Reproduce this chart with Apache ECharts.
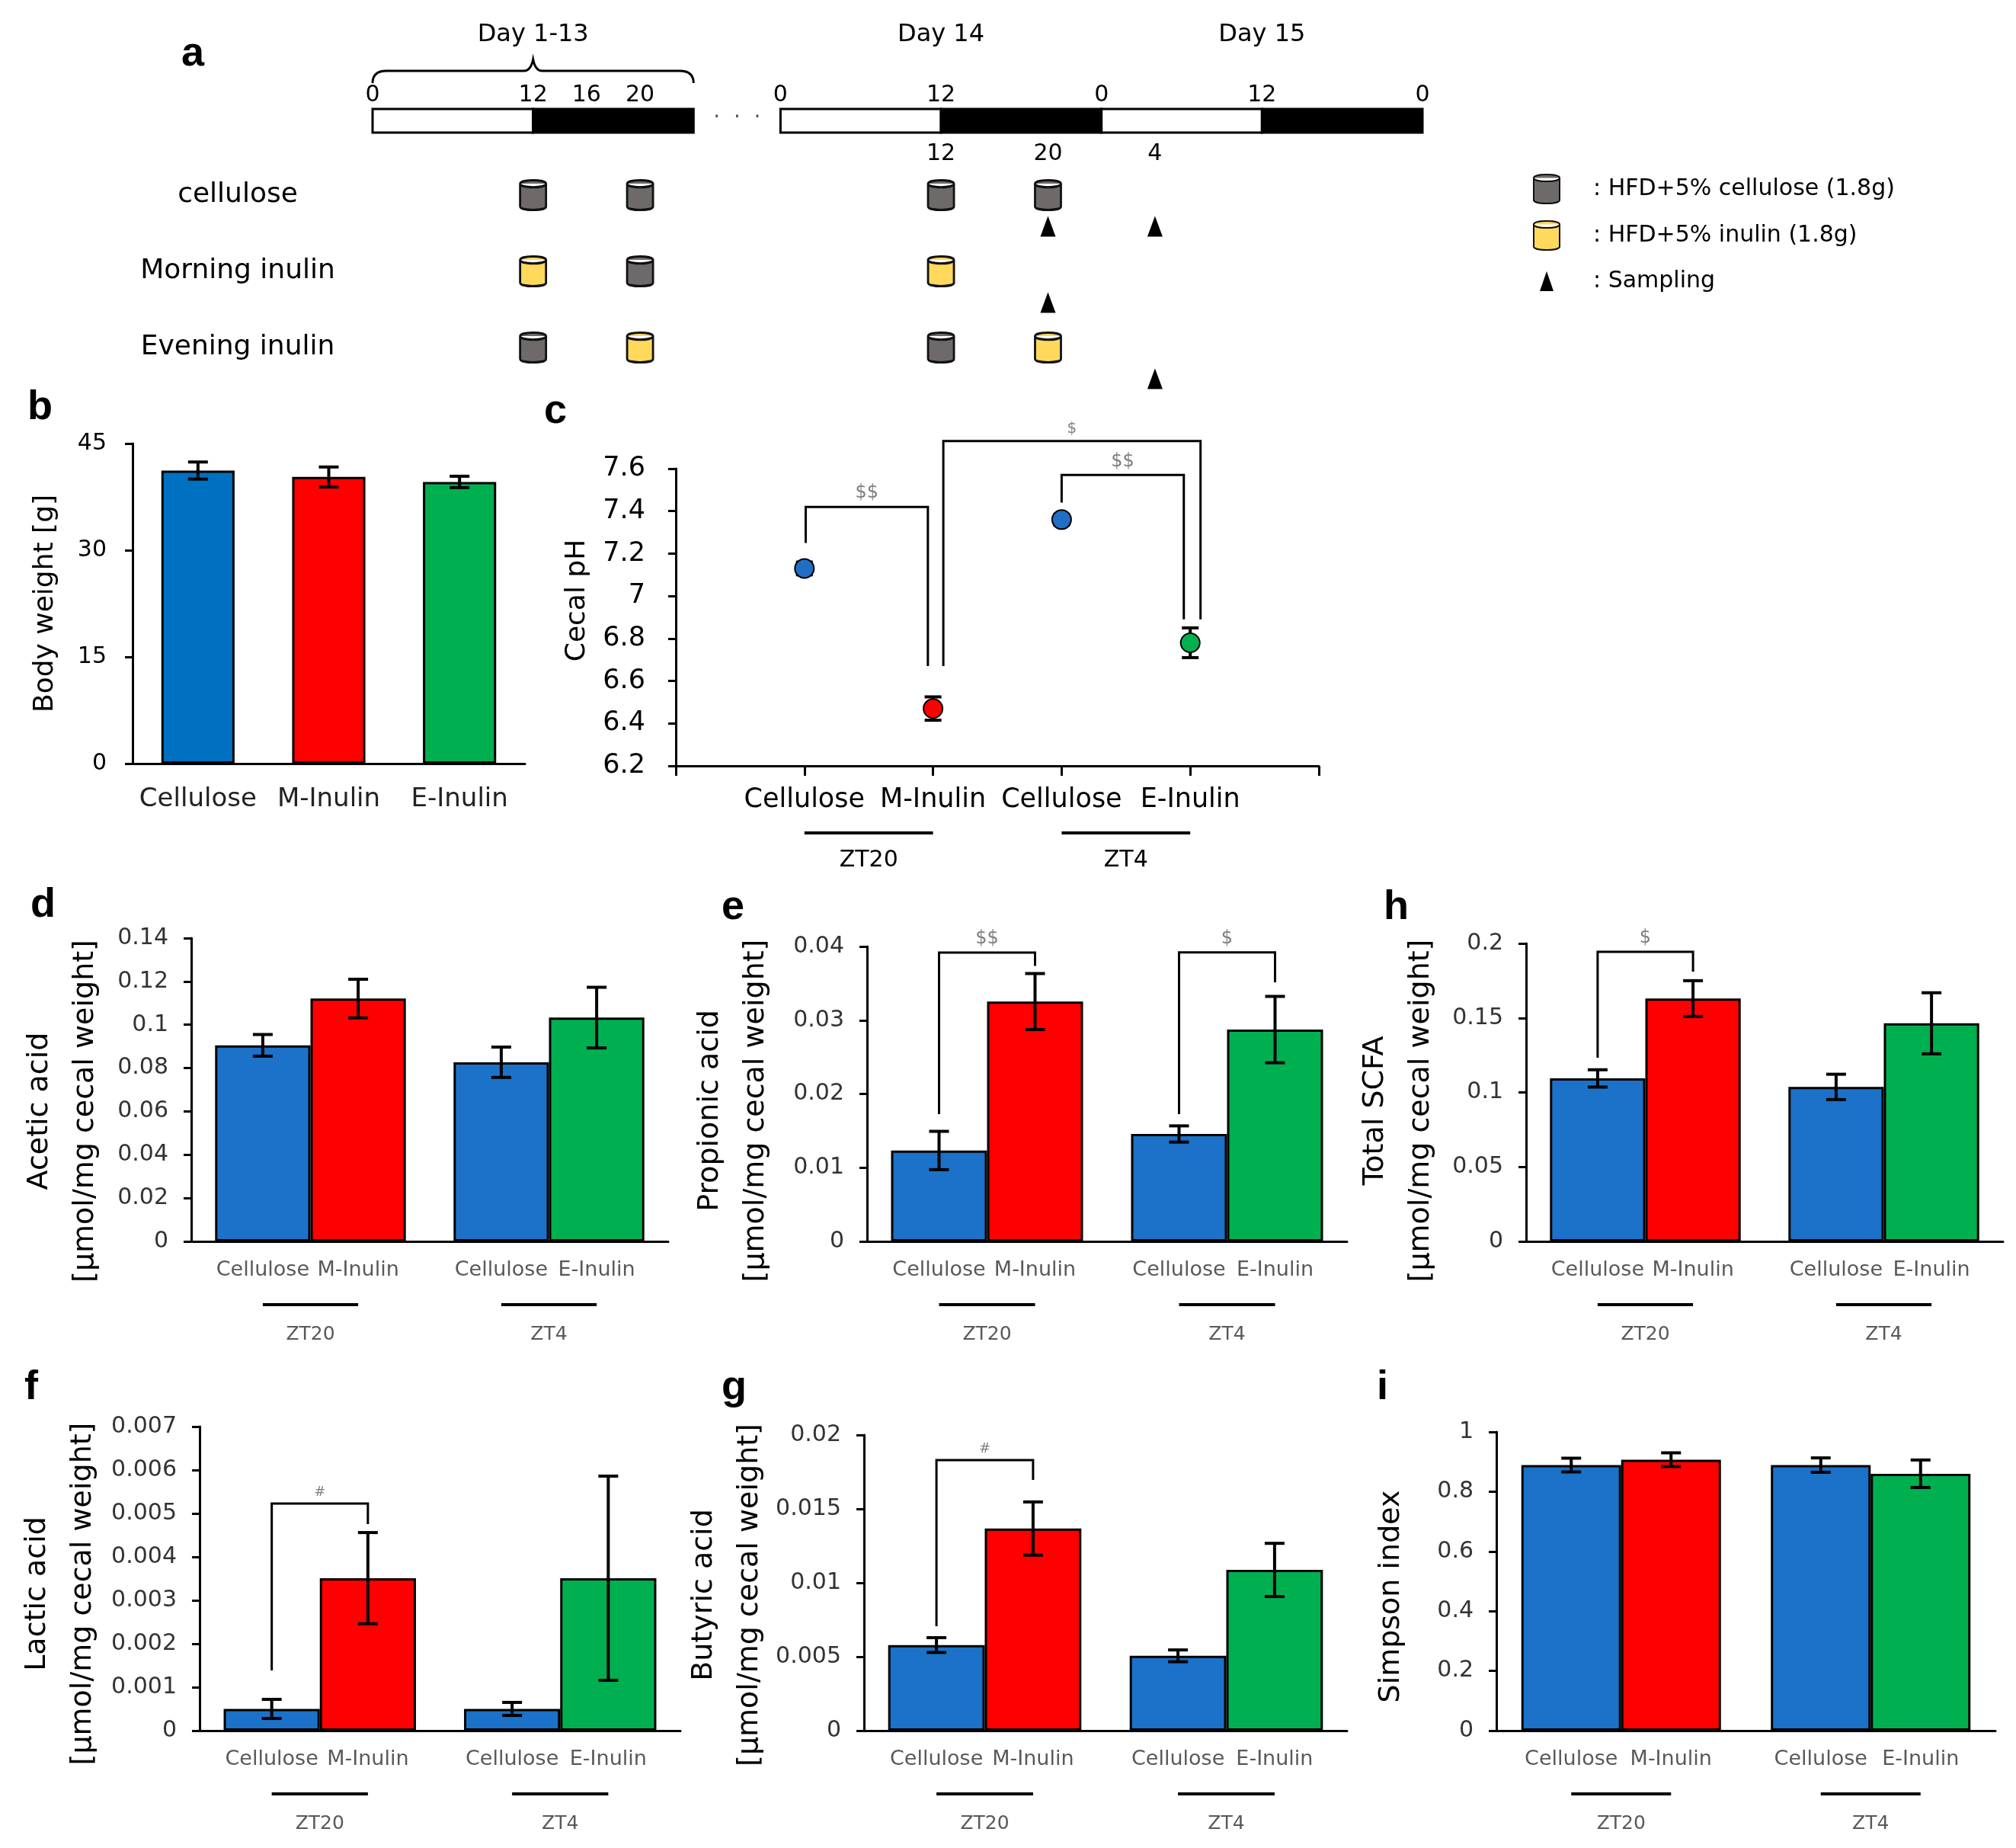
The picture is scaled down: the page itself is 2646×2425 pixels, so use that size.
<!DOCTYPE html>
<html>
<head>
<meta charset="utf-8">
<script src="https://cdn.jsdelivr.net/npm/echarts@6/dist/echarts.min.js"></script>
<style>
  html, body { margin: 0; padding: 0; background: #fff; }
  #chart { width: 2646px; height: 2425px; }
</style>
</head>
<body>
<div id="chart"></div>
<script>
// ---- panel a: feeding schedule (hours on one axis, day 14 starts after the break) ----
var DAY14 = 30.5;
var dayLabels = ['Day 1-13', 'Day 14', 'Day 15'];
var dayLabelHours = [12, DAY14 + 12, DAY14 + 36];
var phaseBlocks = [[0, 12, 0], [12, 24, 1], [DAY14, DAY14 + 12, 0], [DAY14 + 12, DAY14 + 24, 1], [DAY14 + 24, DAY14 + 36, 0], [DAY14 + 36, DAY14 + 48, 1]];
var clockHours = [0, 12, 16, 20, DAY14, DAY14 + 12, DAY14 + 24, DAY14 + 36, DAY14 + 48];
var clockLabels = ['0', '12', '16', '20', '0', '12', '0', '12', '0'];
var day14Hours = [DAY14 + 12, DAY14 + 20, DAY14 + 28];
var day14Labels = ['12', '20', '4'];
var dietGroups = ['cellulose', 'Morning inulin', 'Evening inulin'];
var celluloseMeals = [[12, 'cellulose'], [20, 'cellulose'], [DAY14 + 12, 'cellulose'], [DAY14 + 20, 'cellulose'],
  [20, 'Morning inulin'], [12, 'Evening inulin'], [DAY14 + 12, 'Evening inulin']];
var inulinMeals = [[12, 'Morning inulin'], [DAY14 + 12, 'Morning inulin'], [20, 'Evening inulin'], [DAY14 + 20, 'Evening inulin']];
var samplings = [[DAY14 + 20, 'cellulose'], [DAY14 + 28, 'cellulose'], [DAY14 + 20, 'Morning inulin'], [DAY14 + 28, 'Evening inulin']];

// ---- panel b ----
var bGroups = ['Cellulose', 'M-Inulin', 'E-Inulin'];
var bodyWeight = [41.2, 40.3, 39.6];
var bodyWeightSE = [1.2, 1.4, 0.8];

// ---- panel c ----
var phLabels = ['Cellulose', 'M-Inulin', 'Cellulose', 'E-Inulin'];
var cecalPH = [7.13, 6.47, 7.36, 6.78];
var cecalPHSE = [0.03, 0.055, 0.025, 0.07];

// ---- panels d-i (ZT20: cellulose vs M-inulin, ZT4: cellulose vs E-inulin) ----
var times = ['ZT20', 'ZT4'];
var inulinNames = ['M-Inulin', 'E-Inulin'];
var aceticCell = [0.0905, 0.0827], aceticCellSE = [0.005, 0.007];
var aceticInu = [0.1121, 0.1033], aceticInuSE = [0.0089, 0.014];
var propCell = [0.01233, 0.01457], propCellSE = [0.0026, 0.0011];
var propInu = [0.03253, 0.02873], propInuSE = [0.0038, 0.0045];
var scfaCell = [0.1094, 0.1037], scfaCellSE = [0.0058, 0.0085];
var scfaInu = [0.163, 0.1464], scfaInuSE = [0.012, 0.0205];
var lactCell = [0.0005, 0.0005], lactCellSE = [0.00022, 0.00015];
var lactInu = [0.00351, 0.00351], lactInuSE = [0.00105, 0.00235];
var butCell = [0.00579, 0.00506], butCellSE = [0.0005, 0.0004];
var butInu = [0.01367, 0.01087], butInuSE = [0.0018, 0.0018];
var simpCell = [0.889, 0.889], simpCellSE = [0.023, 0.024];
var simpInu = [0.907, 0.86], simpInuSE = [0.023, 0.046];

// significance brackets: [x left, x right, y left leg end, y top, y right leg end]
var phBrackets = [[1.01, 1.96, 7.25, 7.42, 6.67], [2.08, 4.08, 6.67, 7.73, 6.89], [3.0, 3.95, 7.44, 7.57, 6.89]];
var phBracketText = ['$$', '$', '$$'];
// bar brackets: [category, y left leg end, y top, y right leg end]
var propBrackets = [[0, 0.01726, 0.03917, 0.03736], [1, 0.01726, 0.0392, 0.03514]];
var propBracketText = ['$$', '$'];
var scfaBrackets = [[0, 0.1233, 0.1944, 0.1811]];
var lactBrackets = [[0, 0.001386, 0.00523, 0.004754]];
var butBrackets = [[0, 0.00706, 0.0183, 0.01696]];

var FONT = 'DejaVu Sans';
var BLUE = '#1B72C8', BLUE_B = '#0070C0', RED = '#FF0000', GREEN = '#00B050';
var CYL = 'path://M0,5C0,-1,34,-1,34,5L34,34C34,40,0,40,0,34ZM0,5C0,11,34,11,34,5';
var TRI = 'path://M0,0M36,38M18,6L27,32L9,32Z';
var NAME_CELL = ': HFD+5% cellulose (1.8g)';
var NAME_INU = ': HFD+5% inulin (1.8g)';
var NAME_SAMP = ': Sampling';
var AXIS_LINE = { color: '#000', width: 3 };

var option = {
  animation: false,
  backgroundColor: '#fff',
  title: [],
  legend: {
    orient: 'vertical', left: 2007, top: 223, itemWidth: 36, itemHeight: 38, itemGap: 21,
    selectedMode: false,
    textStyle: { fontFamily: FONT, fontSize: 30, color: '#000', padding: [0, 0, 0, 38] },
    data: [{ name: NAME_CELL, icon: CYL }, { name: NAME_INU, icon: CYL }, { name: NAME_SAMP, icon: TRI }]
  },
  grid: [], xAxis: [], yAxis: [], series: []
};

function addGrid(box) {
  option.grid.push({ left: box[0], top: box[1], width: box[2], height: box[3] });
  return option.grid.length - 1;
}

function txt(text, x, y, size, color, align, valign) {
  return { type: 'text', style: { text: text, x: x, y: y, fontSize: size, fontFamily: FONT, fill: color,
    align: align || 'center', verticalAlign: valign || 'middle' } };
}

function renderError(capW) {
  return function (params, api) {
    var x0 = api.value(0), v = api.value(1), e = api.value(2), side = api.value(3);
    var band = api.size([1, 0])[0];
    var x = api.coord([x0, v])[0] + side * band * 0.2;
    var yt = api.coord([x0, v + e])[1], yb = api.coord([x0, v - e])[1];
    var st = { stroke: '#000', lineWidth: 4 };
    return { type: 'group', children: [
      { type: 'line', shape: { x1: x, y1: yt, x2: x, y2: yb }, style: st },
      { type: 'line', shape: { x1: x - capW / 2, y1: yt, x2: x + capW / 2, y2: yt }, style: st },
      { type: 'line', shape: { x1: x - capW / 2, y1: yb, x2: x + capW / 2, y2: yb }, style: st }
    ] };
  };
}

function bracketShape(xl, xr, yl, yt, yr, text, fs) {
  return { type: 'group', children: [
    { type: 'polyline', shape: { points: [[xl, yl], [xl, yt], [xr, yt], [xr, yr]] },
      style: { stroke: '#000', lineWidth: 3, fill: null } },
    txt(text, (xl + xr) / 2, yt - 6, fs, '#7F7F7F', 'center', 'bottom')
  ] };
}

// ---------- panel a ----------
(function () {
  var gBar = addGrid([489, 143, 1378, 31]);
  option.xAxis.push({ gridIndex: gBar, type: 'value', min: 0, max: DAY14 + 48, show: false });
  option.yAxis.push({ gridIndex: gBar, type: 'value', min: 0, max: 1, show: false });
  option.series.push({
    type: 'custom', xAxisIndex: gBar, yAxisIndex: gBar, data: phaseBlocks,
    renderItem: function (params, api) {
      var p0 = api.coord([api.value(0), 1]), p1 = api.coord([api.value(1), 0]);
      return { type: 'rect', shape: { x: p0[0], y: p0[1], width: p1[0] - p0[0], height: p1[1] - p0[1] },
        style: { fill: api.value(2) ? '#000' : '#fff', stroke: '#000', lineWidth: 3 } };
    }
  });
  option.series.push({
    type: 'custom', xAxisIndex: gBar, yAxisIndex: gBar, data: clockHours.map(function (h) { return [h, 1]; }),
    renderItem: function (params, api) {
      var p = api.coord([api.value(0), 1]);
      return txt(clockLabels[params.dataIndex], p[0], p[1] - 3, 30, '#000', 'center', 'bottom');
    }
  });
  option.series.push({
    type: 'custom', xAxisIndex: gBar, yAxisIndex: gBar, data: day14Hours.map(function (h) { return [h, 0]; }),
    renderItem: function (params, api) {
      var p = api.coord([api.value(0), 0]);
      return txt(day14Labels[params.dataIndex], p[0], p[1] + 28, 30, '#000');
    }
  });
  option.series.push({
    type: 'custom', xAxisIndex: gBar, yAxisIndex: gBar, data: dayLabelHours.map(function (h) { return [h, 1]; }),
    renderItem: function (params, api) {
      var p = api.coord([api.value(0), 1]);
      return txt(dayLabels[params.dataIndex], p[0], p[1] - 97, 32, '#000');
    }
  });
  // brace over day 1-13 and the break dots
  option.series.push({
    type: 'custom', xAxisIndex: gBar, yAxisIndex: gBar, data: [[0, 24]],
    renderItem: function (params, api) {
      var xl = api.coord([api.value(0), 1])[0], xr = api.coord([api.value(1), 1])[0];
      var top = api.coord([0, 1])[1], xm = (xl + xr) / 2, yb = top - 50;
      var d = 'M' + xl + ',' + (yb + 16) + 'Q' + xl + ',' + yb + ',' + (xl + 18) + ',' + yb +
        'L' + (xm - 12) + ',' + yb + 'Q' + (xm - 3) + ',' + yb + ',' + xm + ',' + (yb - 15) +
        'Q' + (xm + 3) + ',' + yb + ',' + (xm + 12) + ',' + yb +
        'L' + (xr - 18) + ',' + yb + 'Q' + xr + ',' + yb + ',' + xr + ',' + (yb + 16);
      return { type: 'path', shape: { pathData: d }, style: { stroke: '#000', lineWidth: 3, fill: null } };
    }
  });
  option.series.push({
    type: 'custom', xAxisIndex: gBar, yAxisIndex: gBar, data: [[24, DAY14]],
    renderItem: function (params, api) {
      var p0 = api.coord([api.value(0), 0.5]), p1 = api.coord([api.value(1), 0.5]);
      return txt('·  ·  ·', (p0[0] + p1[0]) / 2, p0[1] - 4, 28, '#555');
    }
  });

  var gRows = addGrid([489, 206, 1378, 300]);
  option.xAxis.push({ gridIndex: gRows, type: 'value', min: 0, max: DAY14 + 48, show: false });
  option.yAxis.push({ gridIndex: gRows, type: 'category', data: dietGroups, inverse: true,
    axisLine: { show: false }, axisTick: { show: false }, splitLine: { show: false },
    axisLabel: { fontFamily: FONT, fontSize: 36, color: '#000', align: 'center', margin: 177 } });
  option.series.push({ name: NAME_CELL, type: 'scatter', xAxisIndex: gRows, yAxisIndex: gRows,
    data: celluloseMeals, symbol: CYL, symbolSize: [34, 39],
    itemStyle: { color: '#6E6A6A', borderColor: '#111', borderWidth: 3, opacity: 1 } });
  option.series.push({ name: NAME_INU, type: 'scatter', xAxisIndex: gRows, yAxisIndex: gRows,
    data: inulinMeals, symbol: CYL, symbolSize: [34, 39],
    itemStyle: { color: '#FFD95C', borderColor: '#111', borderWidth: 3, opacity: 1 } });
  option.series.push({ name: NAME_SAMP, type: 'scatter', xAxisIndex: gRows, yAxisIndex: gRows,
    data: samplings, symbol: 'triangle', symbolSize: [20, 27], symbolOffset: [0, 41],
    itemStyle: { color: '#000', opacity: 1 } });
})();

// ---------- panel b ----------
(function () {
  var g = addGrid([174, 582, 515, 420]);
  option.xAxis.push({ gridIndex: g, type: 'category', data: bGroups,
    axisLine: { lineStyle: AXIS_LINE }, axisTick: { length: 27, lineStyle: AXIS_LINE },
    axisLabel: { interval: 0, fontFamily: FONT, fontSize: 34, color: '#222', margin: 30 } });
  option.yAxis.push({ gridIndex: g, type: 'value', min: 0, max: 45, interval: 15,
    name: 'Body weight [g]', nameLocation: 'middle', nameGap: 96,
    nameTextStyle: { fontFamily: FONT, fontSize: 36, color: '#000' },
    axisLine: { show: true, lineStyle: AXIS_LINE }, axisTick: { show: true, length: 10, lineStyle: AXIS_LINE },
    splitLine: { show: false }, axisLabel: { fontFamily: FONT, fontSize: 30, color: '#000', margin: 34 } });
  var cols = [BLUE_B, RED, GREEN];
  option.series.push({ type: 'bar', xAxisIndex: g, yAxisIndex: g, barWidth: '56%',
    data: bodyWeight.map(function (v, i) { return { value: v, itemStyle: { color: cols[i] } }; }),
    itemStyle: { borderColor: '#000', borderWidth: 3 } });
  option.series.push({ type: 'custom', xAxisIndex: g, yAxisIndex: g, z: 5, renderItem: renderError(26),
    data: bodyWeight.map(function (v, i) { return [i, v, bodyWeightSE[i], 0]; }) });
})();

// ---------- panel c ----------
(function () {
  var g = addGrid([887, 615, 844, 390]);
  option.xAxis.push({ gridIndex: g, type: 'value', min: 0, max: 5, interval: 1,
    axisLine: { lineStyle: AXIS_LINE }, axisTick: { length: 13, lineStyle: AXIS_LINE },
    splitLine: { show: false },
    axisLabel: { fontFamily: FONT, fontSize: 35, color: '#000', margin: 27,
      formatter: function (v) { return phLabels[v - 1] || ''; } } });
  option.yAxis.push({ gridIndex: g, type: 'value', min: 6.2, max: 7.6, interval: 0.2,
    name: 'Cecal pH', nameLocation: 'middle', nameGap: 111,
    nameTextStyle: { fontFamily: FONT, fontSize: 36, color: '#000', padding: [0, 0, 0, 44] },
    axisLine: { show: true, lineStyle: AXIS_LINE }, axisTick: { show: true, length: 10, lineStyle: AXIS_LINE },
    splitLine: { show: false }, axisLabel: { fontFamily: FONT, fontSize: 35, color: '#000', margin: 40 } });
  var cols = ['#1F6FC5', RED, '#1F6FC5', GREEN];
  option.series.push({ type: 'custom', xAxisIndex: g, yAxisIndex: g, z: 3, renderItem: renderError(22),
    data: cecalPH.map(function (v, i) { return [i + 1, v, cecalPHSE[i], 0]; }) });
  option.series.push({ type: 'scatter', xAxisIndex: g, yAxisIndex: g, z: 4, symbolSize: 25,
    data: cecalPH.map(function (v, i) { return { value: [i + 1, v], itemStyle: { color: cols[i] } }; }),
    itemStyle: { borderColor: '#000', borderWidth: 2, opacity: 1 } });
  option.series.push({ type: 'custom', xAxisIndex: g, yAxisIndex: g, data: phBrackets,
    renderItem: function (params, api) {
      var l = api.coord([api.value(0), api.value(2)]), t = api.coord([api.value(0), api.value(3)]);
      var r = api.coord([api.value(1), api.value(4)]);
      var fs = phBracketText[params.dataIndex] === '$' ? 20 : 24;
      return bracketShape(l[0], r[0], l[1], t[1], r[1], phBracketText[params.dataIndex], fs);
    } });
  option.series.push({ type: 'custom', xAxisIndex: g, yAxisIndex: g, data: [[1, 2], [3, 4]],
    renderItem: function (params, api) {
      var a = api.coord([api.value(0), 6.2]), b = api.coord([api.value(1), 6.2]);
      return { type: 'group', children: [
        { type: 'line', shape: { x1: a[0], y1: a[1] + 88, x2: b[0], y2: a[1] + 88 }, style: { stroke: '#000', lineWidth: 4 } },
        txt(times[params.dataIndex], (a[0] + b[0]) / 2, a[1] + 124, 30, '#000')
      ] };
    } });
})();

// ---------- panels d-i ----------
function barPanel(box, p) {
  var g = addGrid(box);
  option.xAxis.push({ gridIndex: g, type: 'category', data: times,
    axisLine: { lineStyle: AXIS_LINE }, axisTick: { length: 27, lineStyle: AXIS_LINE },
    axisLabel: { show: false } });
  option.yAxis.push({ gridIndex: g, type: 'value', min: 0, max: p.max, interval: p.step,
    name: p.name, nameLocation: 'middle', nameGap: p.nameGap,
    nameTextStyle: { fontFamily: FONT, fontSize: 38, lineHeight: 60, color: '#000', padding: [0, 2 * p.shift, 0, 0] },
    axisLine: { show: true, lineStyle: AXIS_LINE }, axisTick: { show: true, length: 10, lineStyle: AXIS_LINE },
    splitLine: { show: false }, axisLabel: { fontFamily: FONT, fontSize: 30, color: '#333', margin: 30 } });
  var lab = { show: true, position: 'bottom', distance: 24, fontFamily: FONT, fontSize: 27, color: '#595959' };
  option.series.push({ type: 'bar', xAxisIndex: g, yAxisIndex: g, barGap: 0, barCategoryGap: '20%',
    data: p.cell, itemStyle: { color: BLUE, borderColor: '#000', borderWidth: 3 },
    label: Object.assign({}, lab, { formatter: 'Cellulose' }) });
  option.series.push({ type: 'bar', xAxisIndex: g, yAxisIndex: g, barGap: 0, barCategoryGap: '20%',
    data: p.inu.map(function (v, i) { return { value: v, itemStyle: { color: [RED, GREEN][i] } }; }),
    itemStyle: { borderColor: '#000', borderWidth: 3 },
    label: Object.assign({}, lab, { formatter: function (q) { return inulinNames[q.dataIndex]; } }) });
  var err = [];
  p.cell.forEach(function (v, i) { err.push([i, v, p.cellSE[i], -1]); });
  p.inu.forEach(function (v, i) { err.push([i, v, p.inuSE[i], 1]); });
  option.series.push({ type: 'custom', xAxisIndex: g, yAxisIndex: g, z: 5, renderItem: renderError(26), data: err });
  if (p.brackets) {
    option.series.push({ type: 'custom', xAxisIndex: g, yAxisIndex: g, data: p.brackets,
      renderItem: function (params, api) {
        var cat = api.value(0), band = api.size([1, 0])[0];
        var cx = api.coord([cat, 0])[0];
        var yl = api.coord([cat, api.value(1)])[1], yt = api.coord([cat, api.value(2)])[1], yr = api.coord([cat, api.value(3)])[1];
        var t = p.bracketText[params.dataIndex];
        return bracketShape(cx - band * 0.2, cx + band * 0.2, yl, yt, yr, t, t === '#' ? 18 : 24);
      } });
  }
  option.series.push({ type: 'custom', xAxisIndex: g, yAxisIndex: g, data: [[0, 0], [1, 0]],
    renderItem: function (params, api) {
      var cat = api.value(0), band = api.size([1, 0])[0], c = api.coord([cat, 0]);
      return { type: 'group', children: [
        { type: 'line', shape: { x1: c[0] - band * 0.2, y1: c[1] + 83, x2: c[0] + band * 0.2, y2: c[1] + 83 },
          style: { stroke: '#000', lineWidth: 4 } },
        txt(times[params.dataIndex], c[0], c[1] + 122, 25, '#595959')
      ] };
    } });
}

var UNIT = '[μmol/mg cecal weight]';
barPanel([251, 1231, 626, 398], { name: 'Acetic acid\n' + UNIT, nameGap: 109, shift: 28, max: 0.14, step: 0.02,
  cell: aceticCell, cellSE: aceticCellSE, inu: aceticInu, inuSE: aceticInuSE });
barPanel([1138, 1242, 630, 387], { name: 'Propionic acid\n' + UNIT, nameGap: 116, shift: 22, max: 0.04, step: 0.01,
  cell: propCell, cellSE: propCellSE, inu: propInu, inuSE: propInuSE, brackets: propBrackets, bracketText: propBracketText });
barPanel([2003, 1238, 626, 391], { name: 'Total SCFA\n' + UNIT, nameGap: 108, shift: 24, max: 0.2, step: 0.05,
  cell: scfaCell, cellSE: scfaCellSE, inu: scfaInu, inuSE: scfaInuSE, brackets: scfaBrackets, bracketText: ['$'] });
barPanel([262, 1872, 631, 399], { name: 'Lactic acid\n' + UNIT, nameGap: 123, shift: 20, max: 0.007, step: 0.001,
  cell: lactCell, cellSE: lactCellSE, inu: lactInu, inuSE: lactInuSE, brackets: lactBrackets, bracketText: ['#'] });
barPanel([1134, 1883, 634, 388], { name: 'Butyric acid\n' + UNIT, nameGap: 112, shift: 16, max: 0.02, step: 0.005,
  cell: butCell, cellSE: butCellSE, inu: butInu, inuSE: butInuSE, brackets: butBrackets, bracketText: ['#'] });
barPanel([1964, 1879, 655, 392], { name: 'Simpson index', nameGap: 108, shift: 20, max: 1, step: 0.2,
  cell: simpCell, cellSE: simpCellSE, inu: simpInu, inuSE: simpInuSE });

// panel letters
[['a', 253, 76], ['b', 51, 540], ['c', 729, 545], ['d', 55, 1193], ['e', 962, 1196], ['h', 1831, 1196],
 ['f', 47, 1826], ['g', 962, 1826], ['i', 1822, 1826]].forEach(function (t) {
  option.title.push({ text: t[0], left: t[1] - 15, top: t[2] - 32, padding: 0,
    textStyle: { fontFamily: 'Liberation Sans', fontSize: 54, fontWeight: 'bold', color: '#000' } });
});

var chart = echarts.init(document.getElementById('chart'));
chart.setOption(option);
</script>
</body>
</html>
